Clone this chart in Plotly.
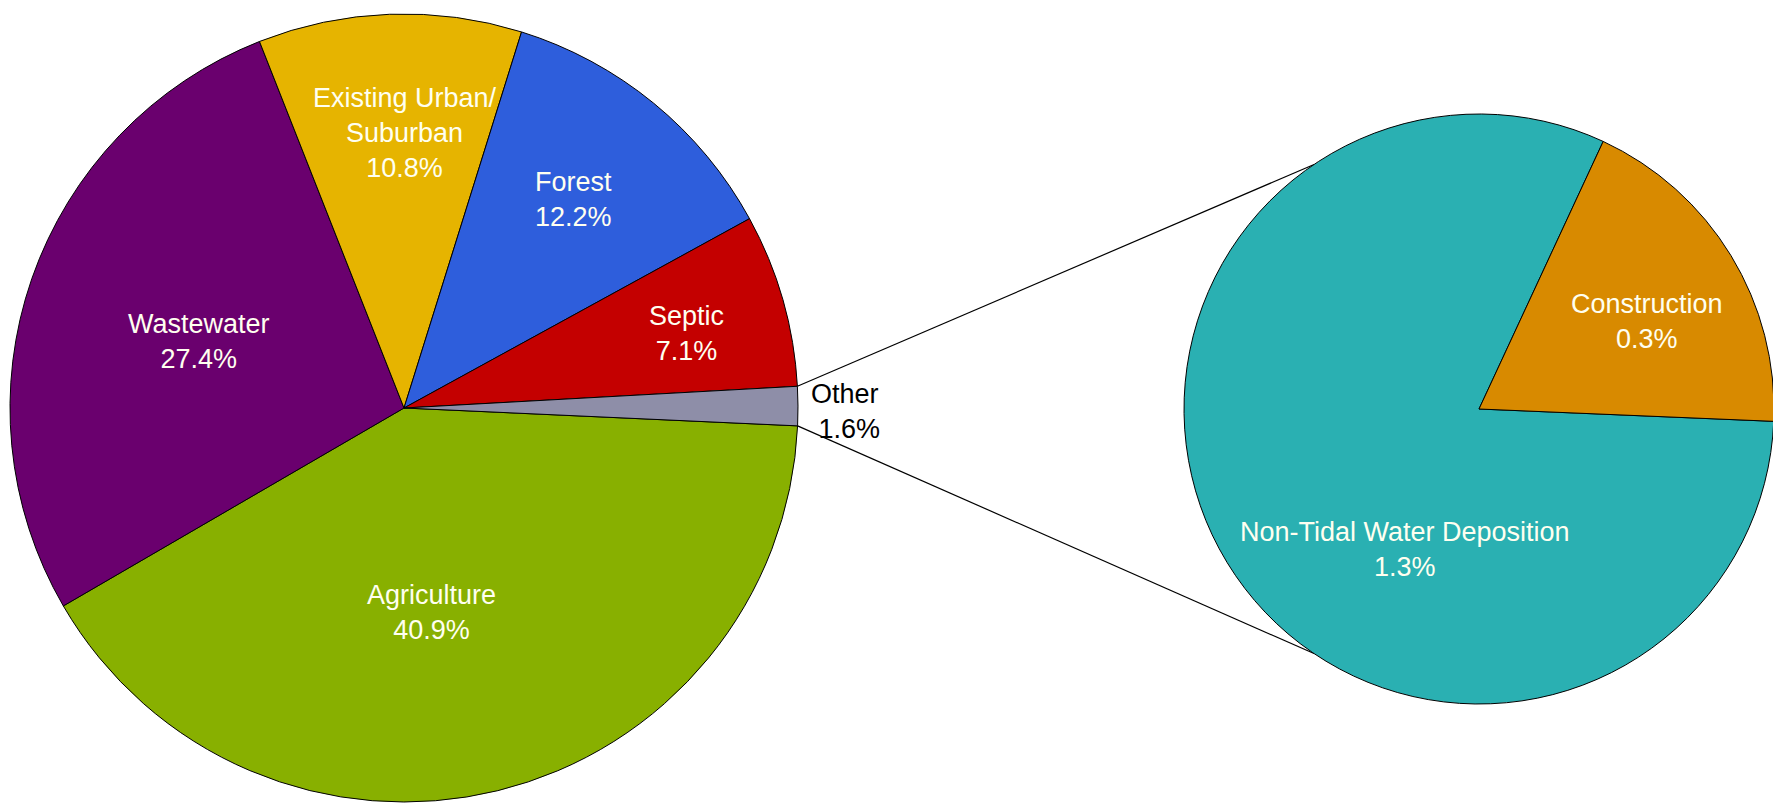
import math
import plotly.graph_objects as go

# ---------------- data ----------------
main_labels = ["Agriculture", "Wastewater", "Existing Urban/<br>Suburban", "Forest", "Septic", "Other"]
main_values = [40.9, 27.4, 10.8, 12.2, 7.1, 1.6]
sub_labels = ["Non-Tidal Water Deposition", "Construction"]
sub_values = [1.3, 0.3]

# ---------------- style ----------------
main_colors = ["#88B000", "#6A006E", "#E6B400", "#2E5EDC", "#C40000", "#8E8EA8"]
sub_colors = ["#2AB0B2", "#D88A00"]
W, H = 1781, 807
OFF = 8                              # page body margin offset (px)
L_CX, L_CY, L_R = 404, 408, 394      # left pie centre / radius (page px)
R_CX, R_CY, R_R = 1479, 409, 295     # right pie centre / radius (page px)
L_ROT, R_ROT = 92.6, 92.4
CONNECT_ANGLE = 56                   # deg above/below 9 o'clock on the secondary pie
FONT = "Liberation Sans, Arial, sans-serif"
TXT = "#FFFFF0"
# label offsets in radius units (dx, dy; dy positive = down)
main_label_pos = [(0.071, 0.520), (-0.520, -0.170), (0.003, -0.698), (0.431, -0.530), (0.716, -0.190), (1.028, 0.008)]
sub_label_pos = [(-0.251, 0.475), (0.569, -0.298)]


def px2paper(x, y):
    return (x - OFF) / W, 1 - (y - OFF) / H


def domain(cx, cy, r):
    x0, y1 = px2paper(cx - r, cy - r)
    x1, y0 = px2paper(cx + r, cy + r)
    return dict(x=[x0, x1], y=[y0, y1])


fig = go.Figure()
fig.add_trace(go.Pie(
    labels=main_labels, values=main_values, sort=False, direction="clockwise",
    rotation=L_ROT, textinfo="none", hoverinfo="label+percent",
    marker=dict(colors=main_colors, line=dict(color="#000000", width=1)),
    domain=domain(L_CX, L_CY, L_R), showlegend=False,
))
fig.add_trace(go.Pie(
    labels=sub_labels, values=sub_values, sort=False, direction="clockwise",
    rotation=R_ROT, textinfo="none", hoverinfo="label+value",
    marker=dict(colors=sub_colors, line=dict(color="#000000", width=1)),
    domain=domain(R_CX, R_CY, R_R), showlegend=False,
))

annotations = []
total = sum(main_values)
for i, (lab, val) in enumerate(zip(main_labels, main_values)):
    dx, dy = main_label_pos[i]
    ax, ay = px2paper(L_CX + dx * L_R, L_CY + dy * L_R)
    is_other = lab == "Other"
    annotations.append(dict(
        x=ax, y=ay, xref="paper", yref="paper", showarrow=False,
        text=f"{lab}<br>{val / total * 100:.1f}%" if not is_other else f"{lab}<br> {val:.1f}%",
        xanchor="left" if is_other else "center", yanchor="middle", align="left" if is_other else "center",
        font=dict(family=FONT, size=27, color="#000000" if is_other else TXT),
    ))
for i, (lab, val) in enumerate(zip(sub_labels, sub_values)):
    dx, dy = sub_label_pos[i]
    ax, ay = px2paper(R_CX + dx * R_R, R_CY + dy * R_R)
    annotations.append(dict(
        x=ax, y=ay, xref="paper", yref="paper", showarrow=False,
        text=f"{lab}<br>{val:.1f}%", xanchor="center", yanchor="middle", align="center",
        font=dict(family=FONT, size=27, color=TXT),
    ))

# connector lines: from the edges of the "Other" wedge to the secondary pie
other_end = L_ROT + 360  # clockwise end of last slice
other_start = other_end - main_values[-1] / total * 360
shapes = []
for a_main, a_sub in [(other_start, 270 + CONNECT_ANGLE), (other_end, 270 - CONNECT_ANGLE)]:
    r1 = math.radians(a_main)
    r2 = math.radians(a_sub)
    x0, y0 = px2paper(L_CX + L_R * math.sin(r1), L_CY - L_R * math.cos(r1))
    x1, y1 = px2paper(R_CX + R_R * math.sin(r2), R_CY - R_R * math.cos(r2))
    shapes.append(dict(type="line", xref="paper", yref="paper",
                       x0=x0, y0=y0, x1=x1, y1=y1,
                       line=dict(color="#000000", width=1.2), layer="below"))

fig.update_layout(
    width=W, height=H, margin=dict(l=0, r=0, t=0, b=0),
    paper_bgcolor="#FFFFFF", plot_bgcolor="#FFFFFF",
    annotations=annotations, shapes=shapes,
)
fig.write_html("out.html")
